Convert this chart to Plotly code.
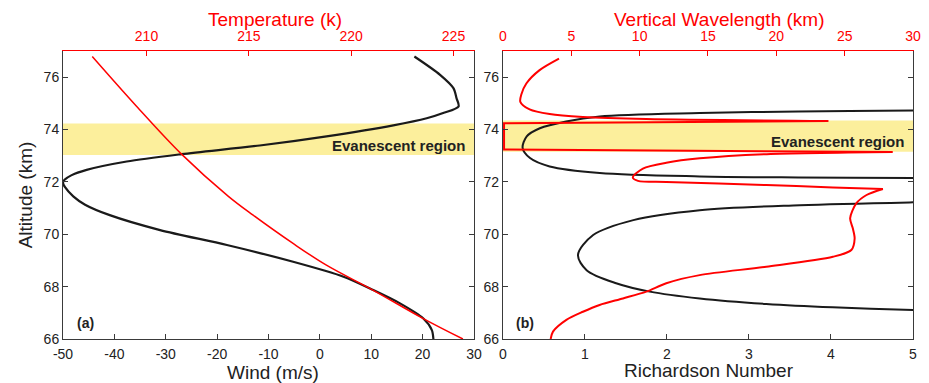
import plotly.graph_objects as go

# ---------------- data ----------------
# Panel (a): wind profile (black, bottom axis) vs altitude
wind_alt = [76.79, 76.09, 75.58, 75.20, 74.88, 74.63, 74.43, 74.16, 73.74, 73.39, 73.06,
            72.78, 72.46, 72.25, 72.08, 71.97, 71.80, 71.45, 71.13, 70.73, 70.16, 69.59,
            68.95, 68.38, 67.87, 67.36, 66.79, 66.34, 66.00]
wind = [18.4, 23.4, 26.0, 26.6, 27.0, 24.0, 20.8, 14.3, 1.3, -11.7, -26.9,
        -37.6, -45.4, -48.4, -49.7, -50.0, -49.6, -48.0, -45.7, -40.9, -31.1, -18.1,
        -5.2, 4.6, 10.4, 15.6, 20.1, 21.8, 22.1]

# Panel (a): temperature (red, top axis) vs altitude
temp_alt = [76.79, 74.90, 73.06, 71.45, 70.73, 69.65, 68.82, 67.87, 66.79, 66.00]
temp = [207.35, 209.50, 211.71, 214.00, 215.21, 217.16, 218.79, 221.06, 223.50, 225.46]

# Panel (b): Richardson number (black, bottom axis); None separates branches leaving the frame
ri_alt = [74.78, 74.73, 74.69, 74.63, 74.50, 74.31, 74.05, 73.74, 73.29, 72.91, 72.59,
          72.34, 72.21, 72.17, 72.15, 72.13, None,
          71.25, 71.22, 71.11, 70.92, 70.54, 69.97, 69.21, 68.63, 68.13, 67.81,
          67.55, 67.34, 67.21, 67.11, 67.08]
ri = [5.6, 5.0, 3.6, 2.4, 1.18, 0.77, 0.45, 0.29, 0.24, 0.33, 0.57,
      1.18, 2.4, 3.6, 5.0, 5.6, None,
      5.6, 5.0, 3.62, 2.4, 1.59, 1.10, 0.915, 1.02, 1.38, 1.79,
      2.40, 3.21, 4.02, 5.0, 5.6]

# Panel (b): vertical wavelength (red, top axis) -- smooth pieces (None separates them)
lam_alt = [76.71, 76.27, 75.76, 75.35, 75.06, 74.77, 74.59, 74.48, 74.40, 74.33, None,
           73.14, 73.06, 72.90, 72.73, 72.51, 72.17, 72.04, 72.00, 71.88, 71.79, 71.73, None,
           71.73, 71.50, 71.18, 70.61, 70.22, 69.84, 69.40, 69.14, 68.76, 68.44, 68.13,
           67.81, 67.55, 67.30, 67.04, 66.73, 66.28, 66.00]
lam = [4.10, 2.68, 1.71, 1.35, 1.27, 1.95, 3.42, 5.85, 10.49, 23.8, None,
       28.5, 19.3, 14.4, 11.95, 10.24, 9.5, 9.88, 11.95, 19.27, 24.14, 27.8, None,
       27.8, 26.6, 25.85, 25.4, 25.6, 25.73, 25.49, 24.14, 19.27, 14.39, 11.95,
       10.49, 8.78, 7.07, 5.85, 4.64, 3.66, 3.49]
# Panel (b): wavelength jump through the evanescent region (straight pieces)
lam_jump_alt = [74.33, 74.24, 73.24, 73.14]
lam_jump = [23.8, 0.08, 0.08, 28.5]

# bands and tick labels
band_a = [73.03, 74.23]
band_b = [73.15, 74.35]
alt_ticks = [66, 68, 70, 72, 74, 76]
wind_ticks = [-50, -40, -30, -20, -10, 0, 10, 20, 30]
wind_ticktext = ["-50", "-40", "-30", "-20", "-10", "0", "10", "20", "30"]
temp_ticks = [210, 215, 220, 225]
ri_ticks = [0, 1, 2, 3, 4, 5]
lam_ticks = [0, 5, 10, 15, 20, 25, 30]

# ---------------- figure ----------------
FONT = "Liberation Sans, Arial, Helvetica, sans-serif"
RED = "#ff0000"
AXC = "#3a3a3a"
TXT = "#222222"
TICKSZ = 14
TITLESZ = 19

fig = go.Figure()
fig.add_trace(go.Scatter(x=temp, y=temp_alt, xaxis="x2", yaxis="y", mode="lines",
                         line=dict(color=RED, width=1.5, shape="spline"), showlegend=False))
fig.add_trace(go.Scatter(x=wind, y=wind_alt, xaxis="x", yaxis="y", mode="lines",
                         line=dict(color="#1a1a1a", width=2.2, shape="spline", smoothing=0.8),
                         showlegend=False))
fig.add_trace(go.Scatter(x=ri, y=ri_alt, xaxis="x3", yaxis="y2", mode="lines",
                         line=dict(color="#1a1a1a", width=2, shape="spline", smoothing=0.9),
                         connectgaps=False, showlegend=False))
fig.add_trace(go.Scatter(x=lam, y=lam_alt, xaxis="x4", yaxis="y2", mode="lines",
                         line=dict(color=RED, width=2, shape="spline", smoothing=0.8),
                         connectgaps=False, showlegend=False))
fig.add_trace(go.Scatter(x=lam_jump, y=lam_jump_alt, xaxis="x4", yaxis="y2", mode="lines",
                         line=dict(color=RED, width=2), showlegend=False))

common_tick = dict(ticks="inside", ticklen=5, tickwidth=1, showgrid=False, zeroline=False,
                   showline=True, linewidth=1, automargin=False)
xdom_a = [0, 0.4835]
xdom_b = [0.5176, 1]

fig.update_layout(
    width=929, height=383,
    margin=dict(l=63, r=16, t=51, b=44),
    paper_bgcolor="white", plot_bgcolor="white",
    font=dict(family=FONT, size=TICKSZ, color=TXT),
    xaxis=dict(domain=xdom_a, anchor="y", range=[-50, 30], tickvals=wind_ticks,
               ticktext=wind_ticktext, linecolor=AXC, tickcolor=AXC,
               tickfont=dict(size=TICKSZ, color=TXT), ticklabelstandoff=2, **common_tick),
    xaxis2=dict(overlaying="x", side="top", anchor="y", range=[205.92, 226.0],
                tickvals=temp_ticks, linecolor=RED, tickcolor=RED,
                tickfont=dict(size=TICKSZ, color=RED), ticklabelstandoff=3, **common_tick),
    xaxis3=dict(domain=xdom_b, anchor="y2", range=[0, 5], tickvals=ri_ticks,
                linecolor=AXC, tickcolor=AXC, tickfont=dict(size=TICKSZ, color=TXT),
                ticklabelstandoff=2, **common_tick),
    xaxis4=dict(overlaying="x3", side="top", anchor="y2", range=[0, 30],
                tickvals=lam_ticks, linecolor=RED, tickcolor=RED,
                tickfont=dict(size=TICKSZ, color=RED), ticklabelstandoff=3, **common_tick),
    yaxis=dict(domain=[0, 1], anchor="x", range=[66, 77], tickvals=alt_ticks,
               linecolor=AXC, tickcolor=AXC, mirror="ticks",
               tickfont=dict(size=TICKSZ, color=TXT),
               title=dict(text="Altitude (km)", font=dict(size=TITLESZ, color=TXT), standoff=5),
               **common_tick),
    yaxis2=dict(domain=[0, 1], anchor="x3", range=[66, 77], tickvals=alt_ticks,
                linecolor=AXC, tickcolor=AXC, mirror="ticks",
                tickfont=dict(size=TICKSZ, color=TXT), **common_tick),
)

# axis titles as annotations (positioned as in the reference)
titles = [
    ("Temperature (k)", 0.2494, 1.108, RED),
    ("Vertical Wavelength (km)", 0.7718, 1.108, RED),
    ("Wind (m/s)", 0.2476, -0.118, TXT),
    ("Richardson Number", 0.7600, -0.110, TXT),
]
for txt, xp, yp, col in titles:
    fig.add_annotation(text=txt, xref="paper", yref="paper", x=xp, y=yp,
                       xanchor="center", yanchor="middle", showarrow=False,
                       font=dict(size=TITLESZ, color=col, family=FONT))

fig.add_shape(type="rect", xref="x domain", yref="y", x0=0, x1=1, y0=band_a[0], y1=band_a[1],
              fillcolor="#fcef9c", line=dict(width=0), layer="below")
fig.add_shape(type="rect", xref="x3 domain", yref="y2", x0=0, x1=1, y0=band_b[0], y1=band_b[1],
              fillcolor="#fcef9c", line=dict(width=0), layer="below")

fig.add_annotation(text="<b>Evanescent region</b>", xref="x domain", yref="y", x=0.982, y=73.39,
                   xanchor="right", yanchor="middle", showarrow=False,
                   font=dict(size=15, color=TXT, family=FONT))
fig.add_annotation(text="<b>Evanescent region</b>", xref="x3 domain", yref="y2", x=0.984, y=73.55,
                   xanchor="right", yanchor="middle", showarrow=False,
                   font=dict(size=15, color=TXT, family=FONT))
fig.add_annotation(text="<b>(a)</b>", xref="x domain", yref="y", x=0.028, y=66.6,
                   xanchor="left", yanchor="middle", showarrow=False,
                   font=dict(size=14, color=TXT, family=FONT))
fig.add_annotation(text="<b>(b)</b>", xref="x3 domain", yref="y2", x=0.028, y=66.6,
                   xanchor="left", yanchor="middle", showarrow=False,
                   font=dict(size=14, color=TXT, family=FONT))

fig.write_html("out.html")
